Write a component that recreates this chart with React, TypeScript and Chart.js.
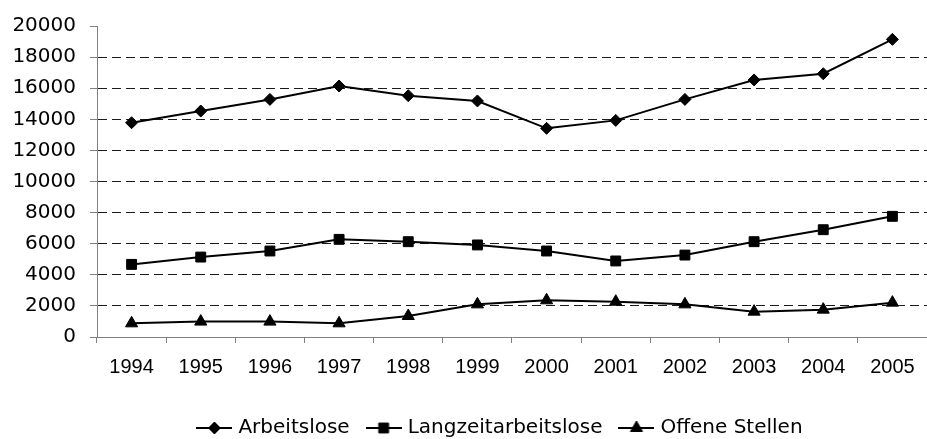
import React, { useEffect, useRef } from 'react';
import { Chart, registerables } from 'chart.js';
import { drawPoint } from 'chart.js/helpers';

Chart.register(...registerables);

// ---- data ----
const YEARS = ['1994', '1995', '1996', '1997', '1998', '1999', '2000', '2001', '2002', '2003', '2004', '2005'];
const ARBEITSLOSE = [13780, 14530, 15280, 16140, 15520, 15180, 13420, 13930, 15280, 16530, 16930, 19140];
const LANGZEITARBEITSLOSE = [4670, 5140, 5530, 6280, 6130, 5920, 5530, 4890, 5270, 6130, 6900, 7760];
const OFFENE_STELLEN = [880, 990, 990, 880, 1350, 2100, 2360, 2270, 2100, 1630, 1760, 2210];
const SERIES_NAMES = ['Arbeitslose', 'Langzeitarbeitslose', 'Offene Stellen'];
const Y_MIN = 0;
const Y_MAX = 20000;
const Y_STEP = 2000;

// ---- layout / style ----
const CANVAS_W = 935;
const CANVAS_H = 439;
const LEGEND_DX = 35;
const LEGEND_DY = 17;
const X_AXIS_TRIM = 10;

const STYLES = [
  { pointStyle: 'rectRot', radius: 6 },
  { pointStyle: 'rect', radius: 7 },
  { pointStyle: 'triangle', radius: 7 },
];

function legendIcon(pointStyle: string, radius: number): HTMLCanvasElement {
  const c = document.createElement('canvas');
  c.width = 36;
  c.height = 18;
  const ctx = c.getContext('2d') as CanvasRenderingContext2D;
  ctx.strokeStyle = '#000';
  ctx.lineWidth = 2;
  ctx.beginPath();
  ctx.moveTo(0, 9);
  ctx.lineTo(36, 9);
  ctx.stroke();
  ctx.fillStyle = '#000';
  ctx.lineWidth = 1;
  drawPoint(ctx, { pointStyle, radius, borderWidth: 1, rotation: 0 } as any, 18, 9);
  return c;
}

const legendShift = {
  id: 'legendShift',
  afterLayout(chart: any) {
    const lg = chart.legend;
    if (!lg) return;
    lg.left += LEGEND_DX;
    lg.right += LEGEND_DX;
    lg.top += LEGEND_DY;
    lg.bottom += LEGEND_DY;
  },
};

export default function App() {
  const ref = useRef<HTMLCanvasElement | null>(null);

  useEffect(() => {
    if (!ref.current) return;
    const icons = STYLES.map((s) => legendIcon(s.pointStyle, s.radius));
    const seriesData = [ARBEITSLOSE, LANGZEITARBEITSLOSE, OFFENE_STELLEN];
    const chart = new Chart(ref.current, {
      type: 'line',
      data: {
        labels: YEARS,
        datasets: seriesData.map((d, i) => ({
          label: SERIES_NAMES[i],
          data: d,
          borderColor: '#000',
          backgroundColor: '#000',
          borderWidth: 2,
          pointStyle: STYLES[i].pointStyle as any,
          pointRadius: STYLES[i].radius,
          pointBorderWidth: 1,
          pointBackgroundColor: '#000',
          pointBorderColor: '#000',
          tension: 0,
          fill: false,
        })),
      },
      options: {
        responsive: false,
        animation: false,
        devicePixelRatio: 1,
        layout: { padding: { top: 25, right: 2, bottom: 8, left: 0 } },
        plugins: {
          tooltip: { enabled: false },
          legend: {
            position: 'bottom',
            labels: {
              usePointStyle: true,
              pointStyleWidth: 28,
              padding: 20,
              color: '#000',
              font: { family: 'DejaVu Sans', size: 20 },
              generateLabels: (c: any) => {
                const items = (Chart.defaults.plugins.legend.labels as any).generateLabels(c);
                return items.map((it: any, i: number) => ({ ...it, pointStyle: icons[i] }));
              },
            },
          },
        },
        scales: {
          x: {
            type: 'category',
            offset: true,
            afterFit: (s: any) => {
              s.height -= X_AXIS_TRIM;
            },
            grid: {
              display: true,
              drawOnChartArea: false,
              drawTicks: true,
              tickLength: 6,
              offset: true,
              color: '#808080',
              tickColor: '#808080',
            },
            border: { display: true, color: '#808080', width: 1 },
            ticks: {
              color: '#000',
              padding: 12,
              maxRotation: 0,
              autoSkip: false,
              font: { family: 'Liberation Sans', size: 20 },
            },
          },
          y: {
            min: Y_MIN,
            max: Y_MAX,
            afterFit: (s: any) => {
              s.width = 97;
            },
            ticks: {
              stepSize: Y_STEP,
              color: '#000',
              padding: 14,
              font: { family: 'DejaVu Sans', size: 20 },
              callback: (v: any) => String(v),
            },
            grid: {
              color: (ctx: any) =>
                ctx.tick && (ctx.tick.value === Y_MAX || ctx.tick.value === Y_MIN) ? 'rgba(0,0,0,0)' : '#1a1a1a',
              tickColor: '#808080',
              tickLength: 7,
              tickBorderDash: [],
              lineWidth: 1,
            },
            border: { display: true, color: '#808080', width: 1, dash: [9, 5] },
          },
        },
      },
      plugins: [legendShift],
    } as any);
    return () => chart.destroy();
  }, []);

  return (
    <div style={{ position: 'absolute', left: 0, top: 0, width: 927, height: 439, overflow: 'hidden', background: '#fff' }}>
      <canvas ref={ref} width={CANVAS_W} height={CANVAS_H} style={{ display: 'block', width: CANVAS_W, height: CANVAS_H }} />
    </div>
  );
}
